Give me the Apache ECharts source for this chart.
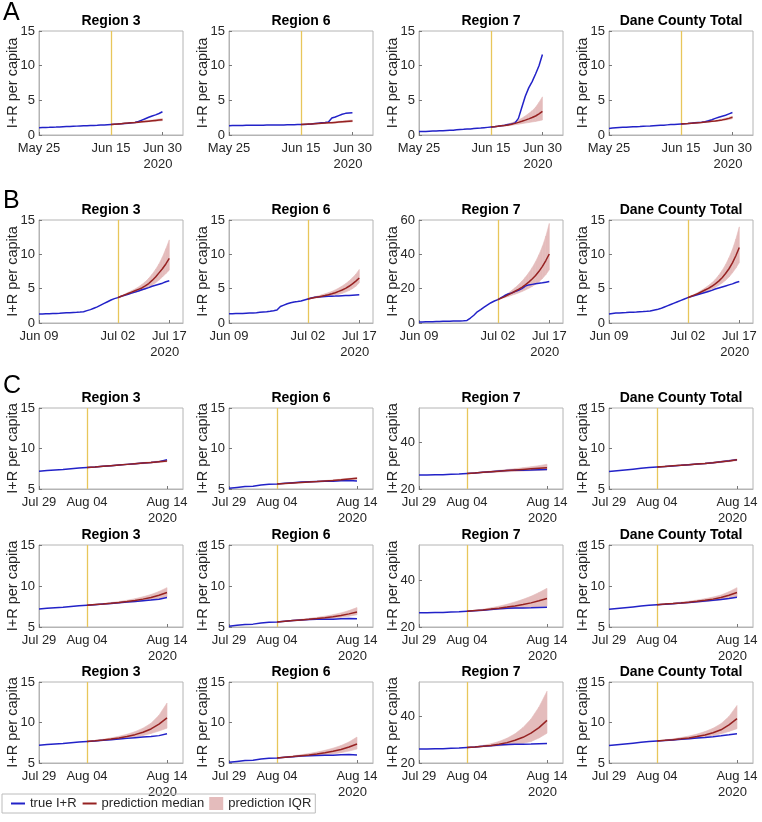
<!DOCTYPE html>
<html>
<head>
<meta charset="utf-8">
<script src="https://cdn.jsdelivr.net/npm/echarts@6/dist/echarts.min.js"></script>
<style>
html,body{margin:0;padding:0;background:#fff;}
#chart{width:762px;height:822px;}
</style>
</head>
<body>
<div id="chart"></div>
<script>
// ---------- categories / ticks ----------
const regionNames = ['Region 3', 'Region 6', 'Region 7', 'Dane County Total'];
const panelLetters = ['A', 'B', 'C'];
const yearLabel = '2020';
const yAxisLabel = 'I+R per capita';
const legendNames = ['true I+R', 'prediction median', 'prediction IQR'];

// x ticks (day offsets from series start) and their labels
const xTickDaysA = [0, 21, 36];
const xTickLabelsA = ['May 25', 'Jun 15', 'Jun 30'];
const xTickDaysB = [0, 23, 38];
const xTickLabelsB = ['Jun 09', 'Jul 02', 'Jul 17'];
const xTickDaysC = [0, 6, 16];
const xTickLabelsC = ['Jul 29', 'Aug 04', 'Aug 14'];
const predStartA = 21, predStartB = 23, predStartC = 6;
const xMaxA = 42, xMaxB = 42, xMaxC = 18;

// y ticks
const yTicks0to15 = [0, 5, 10, 15];
const yTicks0to60 = [0, 20, 40, 60];
const yTicks5to15 = [5, 10, 15];
const yTicks20to55 = [20, 40];

// ---------- Row A (May 25 .. Jun 30, prediction from Jun 15) ----------
const trueA_R3 = [1.05,1.07,1.09,1.1,1.12,1.14,1.17,1.2,1.22,1.24,1.26,1.28,1.3,1.32,1.34,1.36,1.38,1.4,1.43,1.46,1.49,1.52,1.55,1.58,1.62,1.66,1.7,1.75,1.8,1.95,2.15,2.35,2.55,2.75,2.9,3.1,3.35];
const medA_R3 = [1.52,1.56,1.6,1.64,1.68,1.72,1.76,1.8,1.85,1.9,1.95,2.0,2.05,2.1,2.15,2.2];
const loA_R3 = [1.52,1.55,1.58,1.61,1.64,1.67,1.7,1.74,1.78,1.82,1.86,1.9,1.94,1.98,2.02,2.06];
const hiA_R3 = [1.52,1.57,1.62,1.67,1.72,1.77,1.82,1.87,1.93,1.99,2.05,2.11,2.17,2.24,2.31,2.38];

const trueA_R6 = [1.35,1.36,1.37,1.38,1.38,1.39,1.4,1.4,1.41,1.42,1.42,1.43,1.44,1.44,1.45,1.46,1.46,1.47,1.48,1.49,1.5,1.51,1.53,1.56,1.6,1.65,1.7,1.75,1.8,1.88,2.45,2.6,2.8,3.0,3.12,3.18,3.2];
const medA_R6 = [1.51,1.54,1.57,1.6,1.63,1.66,1.69,1.72,1.75,1.78,1.82,1.86,1.9,1.94,1.98,2.02];
const loA_R6 = [1.51,1.53,1.55,1.57,1.6,1.62,1.64,1.67,1.69,1.72,1.74,1.77,1.8,1.83,1.86,1.89];
const hiA_R6 = [1.51,1.55,1.59,1.63,1.67,1.71,1.75,1.79,1.83,1.87,1.92,1.97,2.02,2.07,2.12,2.17];

const trueA_R7 = [0.5,0.5,0.52,0.54,0.56,0.58,0.6,0.62,0.65,0.68,0.7,0.75,0.8,0.82,0.85,0.88,0.92,0.96,1.0,1.05,1.1,1.15,1.2,1.25,1.32,1.4,1.5,1.6,1.75,2.4,4.0,5.6,6.8,7.7,8.8,10.0,11.6];
const medA_R7 = [1.15,1.2,1.26,1.32,1.38,1.45,1.55,1.68,1.82,1.98,2.15,2.33,2.52,2.74,3.05,3.4];
const loA_R7 = [1.15,1.18,1.22,1.26,1.3,1.34,1.4,1.48,1.56,1.64,1.72,1.8,1.88,1.96,2.06,2.16];
const hiA_R7 = [1.15,1.22,1.3,1.39,1.49,1.6,1.75,1.93,2.15,2.42,2.75,3.1,3.5,4.0,4.7,5.5];

const trueA_DC = [0.95,1.0,1.05,1.08,1.1,1.12,1.15,1.18,1.2,1.22,1.25,1.28,1.3,1.33,1.36,1.39,1.42,1.46,1.5,1.53,1.56,1.59,1.62,1.65,1.7,1.75,1.8,1.85,1.92,2.05,2.2,2.4,2.55,2.7,2.85,3.05,3.25];
const medA_DC = [1.59,1.62,1.65,1.69,1.73,1.77,1.81,1.86,1.91,1.97,2.03,2.1,2.18,2.28,2.4,2.55];
const loA_DC = [1.59,1.61,1.64,1.67,1.7,1.74,1.78,1.82,1.86,1.91,1.96,2.02,2.08,2.15,2.24,2.35];
const hiA_DC = [1.59,1.63,1.67,1.71,1.76,1.81,1.86,1.92,1.98,2.05,2.13,2.21,2.31,2.43,2.57,2.72];

// ---------- Row B (Jun 09 .. Jul 17, prediction from Jul 02) ----------
const trueB_R3 = [1.3,1.32,1.34,1.36,1.38,1.4,1.42,1.45,1.48,1.5,1.53,1.56,1.6,1.65,1.8,1.95,2.15,2.35,2.6,2.85,3.1,3.35,3.55,3.7,3.9,4.05,4.2,4.35,4.5,4.65,4.85,5.0,5.15,5.35,5.5,5.65,5.8,6.0,6.15];
const medB_R3 = [3.7,3.9,4.1,4.3,4.5,4.7,4.9,5.1,5.4,5.75,6.2,6.7,7.3,7.9,8.6,9.4];
const loB_R3 = [3.7,3.85,4.0,4.15,4.3,4.45,4.6,4.75,4.95,5.2,5.5,5.85,6.25,6.7,7.2,7.7];
const hiB_R3 = [3.7,3.95,4.2,4.45,4.7,4.95,5.25,5.6,6.0,6.5,7.1,7.8,8.6,9.6,10.8,12.1];

const trueB_R6 = [1.35,1.36,1.37,1.38,1.4,1.42,1.44,1.46,1.5,1.55,1.6,1.65,1.72,1.8,1.9,2.4,2.6,2.8,2.95,3.05,3.12,3.2,3.35,3.5,3.65,3.75,3.8,3.82,3.85,3.88,3.9,3.92,3.95,3.98,4.0,4.02,4.05,4.08,4.1];
const medB_R6 = [3.5,3.6,3.7,3.8,3.9,4.0,4.12,4.25,4.4,4.6,4.8,5.05,5.35,5.7,6.1,6.55];
const loB_R6 = [3.5,3.55,3.62,3.69,3.76,3.83,3.9,3.98,4.07,4.18,4.32,4.5,4.72,5.0,5.35,5.85];
const hiB_R6 = [3.5,3.65,3.8,3.95,4.1,4.25,4.42,4.6,4.82,5.08,5.38,5.72,6.12,6.58,7.1,7.8];

const trueB_R7 = [0.6,0.65,0.7,0.75,0.8,0.85,0.9,0.95,1.0,1.05,1.1,1.15,1.2,1.3,1.5,2.9,4.5,6.5,7.8,9.2,10.5,11.8,12.8,13.6,14.8,16.0,16.9,17.5,18.3,19.0,20.0,21.5,22.2,22.5,22.8,23.1,23.4,23.8,24.2];
const medB_R7 = [13.6,14.5,15.4,16.4,17.4,18.5,19.6,20.8,22.2,23.8,25.6,27.7,30.1,33.0,36.4,40.2];
const loB_R7 = [13.6,14.2,14.8,15.4,16.1,16.8,17.5,18.3,19.2,20.2,21.3,22.6,24.1,25.9,28.2,31.0];
const hiB_R7 = [13.6,14.8,16.0,17.4,18.9,20.5,22.3,24.3,26.6,29.2,32.2,35.7,39.8,44.6,50.6,58.0];

const trueB_DC = [1.3,1.38,1.45,1.47,1.5,1.52,1.55,1.58,1.6,1.63,1.66,1.7,1.75,1.85,1.95,2.1,2.3,2.5,2.7,2.9,3.1,3.3,3.5,3.7,3.85,4.0,4.15,4.3,4.45,4.6,4.75,4.95,5.1,5.25,5.4,5.55,5.7,5.9,6.05];
const medB_DC = [3.7,3.9,4.1,4.3,4.55,4.8,5.05,5.35,5.7,6.1,6.6,7.2,7.9,8.75,9.8,11.0];
const loB_DC = [3.7,3.85,4.0,4.15,4.32,4.5,4.7,4.92,5.18,5.48,5.82,6.22,6.7,7.3,8.0,8.8];
const hiB_DC = [3.7,3.95,4.2,4.47,4.78,5.1,5.45,5.85,6.35,6.95,7.65,8.5,9.5,10.7,12.2,14.0];

// ---------- Row C (Jul 29 .. Aug 14, prediction from Aug 04) ----------
const trueC_R3 = [7.2,7.28,7.36,7.42,7.5,7.58,7.65,7.72,7.8,7.88,7.96,8.04,8.12,8.2,8.28,8.38,8.6];
const trueC_R6 = [5.1,5.2,5.3,5.35,5.5,5.58,5.62,5.7,5.78,5.85,5.9,5.93,5.95,5.95,6.02,6.05,6.0];
const trueC_R7 = [26.1,26.1,26.15,26.2,26.35,26.5,26.7,26.9,27.2,27.5,27.8,28.0,28.1,28.15,28.2,28.3,28.4];
const trueC_DC = [7.15,7.25,7.35,7.45,7.55,7.65,7.72,7.78,7.85,7.92,8.0,8.08,8.16,8.25,8.35,8.48,8.62];

const medC1_R3 = [7.65,7.72,7.8,7.88,7.96,8.04,8.12,8.2,8.28,8.37,8.46];
const loC1_R3 = [7.65,7.71,7.78,7.85,7.92,7.99,8.06,8.13,8.2,8.28,8.36];
const hiC1_R3 = [7.65,7.73,7.82,7.91,8.0,8.09,8.18,8.27,8.36,8.46,8.56];
const medC1_R6 = [5.62,5.68,5.74,5.8,5.86,5.92,5.99,6.06,6.14,6.23,6.32];
const loC1_R6 = [5.62,5.67,5.72,5.77,5.82,5.87,5.93,5.99,6.06,6.13,6.21];
const hiC1_R6 = [5.62,5.69,5.76,5.83,5.9,5.97,6.05,6.13,6.22,6.32,6.43];
const medC1_R7 = [26.7,26.95,27.2,27.45,27.7,27.95,28.2,28.45,28.7,28.95,29.2];
const loC1_R7 = [26.7,26.85,27.0,27.15,27.3,27.45,27.6,27.75,27.9,28.05,28.2];
const hiC1_R7 = [26.7,27.05,27.4,27.75,28.1,28.45,28.8,29.2,29.6,30.1,30.7];
const medC1_DC = [7.72,7.79,7.86,7.93,8.0,8.08,8.16,8.25,8.35,8.47,8.6];
const loC1_DC = [7.72,7.78,7.84,7.9,7.96,8.03,8.1,8.18,8.27,8.38,8.5];
const hiC1_DC = [7.72,7.8,7.88,7.96,8.04,8.13,8.22,8.32,8.43,8.56,8.7];

const medC2_R3 = [7.65,7.73,7.81,7.9,8.0,8.11,8.24,8.4,8.6,8.88,9.2];
const loC2_R3 = [7.65,7.71,7.77,7.84,7.91,7.99,8.08,8.18,8.3,8.47,8.67];
const hiC2_R3 = [7.65,7.75,7.86,7.98,8.11,8.26,8.45,8.68,8.96,9.33,9.8];
const medC2_R6 = [5.62,5.7,5.78,5.86,5.94,6.03,6.13,6.25,6.4,6.6,6.84];
const loC2_R6 = [5.62,5.68,5.74,5.8,5.86,5.93,6.0,6.08,6.18,6.32,6.5];
const hiC2_R6 = [5.62,5.72,5.83,5.94,6.05,6.18,6.32,6.5,6.72,7.0,7.37];
const medC2_R7 = [26.7,27.0,27.3,27.65,28.05,28.5,29.0,29.6,30.3,31.2,32.2];
const loC2_R7 = [26.7,26.9,27.1,27.3,27.5,27.7,27.9,28.1,28.3,28.6,28.9];
const hiC2_R7 = [26.7,27.1,27.6,28.2,28.9,29.7,30.7,31.8,33.1,34.7,36.5];
const medC2_DC = [7.72,7.79,7.86,7.94,8.03,8.13,8.25,8.4,8.6,8.87,9.2];
const loC2_DC = [7.72,7.77,7.82,7.88,7.94,8.01,8.09,8.19,8.32,8.48,8.67];
const hiC2_DC = [7.72,7.82,7.92,8.03,8.15,8.29,8.45,8.65,8.9,9.3,9.8];

const medC3_R3 = [7.65,7.74,7.84,7.96,8.1,8.28,8.5,8.8,9.2,9.8,10.56];
const loC3_R3 = [7.65,7.71,7.77,7.85,7.94,8.05,8.2,8.4,8.65,8.95,9.3];
const hiC3_R3 = [7.65,7.78,7.93,8.1,8.3,8.55,8.87,9.3,9.9,10.9,12.4];
const medC3_R6 = [5.62,5.71,5.8,5.9,6.0,6.12,6.27,6.45,6.67,6.97,7.35];
const loC3_R6 = [5.62,5.68,5.74,5.8,5.86,5.93,6.01,6.12,6.27,6.47,6.73];
const hiC3_R6 = [5.62,5.75,5.88,6.02,6.17,6.35,6.57,6.83,7.15,7.6,8.2];
const medC3_R7 = [26.7,26.95,27.25,27.6,28.1,28.8,29.8,31.1,32.9,35.3,38.4];
const loC3_R7 = [26.7,26.85,27.0,27.2,27.4,27.7,28.0,28.5,29.3,30.8,32.9];
const hiC3_R7 = [26.7,27.1,27.6,28.3,29.3,30.7,32.6,35.3,39.0,44.2,51.0];
const medC3_DC = [7.72,7.8,7.88,7.98,8.1,8.26,8.46,8.73,9.1,9.7,10.47];
const loC3_DC = [7.72,7.77,7.82,7.88,7.96,8.06,8.2,8.38,8.6,8.9,9.24];
const hiC3_DC = [7.72,7.84,7.98,8.14,8.33,8.57,8.88,9.28,9.85,10.75,12.1];

// ---------- layout / style ----------
const FONT = '"Liberation Sans", Arial, Helvetica, sans-serif';
const BLUE = '#2222c8';
const RED = '#962222';
const BAND = '#e4bcbc';
const YEL = '#e8c65a';
const GRAY = '#b4b4b4';
const TXT = '#262626';
const colLeft = [39, 229, 419, 609];
const panelW = 144;

const rows = [
  { top: 31, h: 104, ticks: xTickDaysA, labels: xTickLabelsA, pred: predStartA, xMax: xMaxA,
    trues: [trueA_R3, trueA_R6, trueA_R7, trueA_DC], meds: [medA_R3, medA_R6, medA_R7, medA_DC],
    los: [loA_R3, loA_R6, loA_R7, loA_DC], his: [hiA_R3, hiA_R6, hiA_R7, hiA_DC],
    yr: [[0,15],[0,15],[0,15],[0,15]], yt: [yTicks0to15, yTicks0to15, yTicks0to15, yTicks0to15] },
  { top: 220, h: 103, ticks: xTickDaysB, labels: xTickLabelsB, pred: predStartB, xMax: xMaxB,
    trues: [trueB_R3, trueB_R6, trueB_R7, trueB_DC], meds: [medB_R3, medB_R6, medB_R7, medB_DC],
    los: [loB_R3, loB_R6, loB_R7, loB_DC], his: [hiB_R3, hiB_R6, hiB_R7, hiB_DC],
    yr: [[0,15],[0,15],[0,60],[0,15]], yt: [yTicks0to15, yTicks0to15, yTicks0to60, yTicks0to15] },
  { top: 408, h: 81, ticks: xTickDaysC, labels: xTickLabelsC, pred: predStartC, xMax: xMaxC,
    trues: [trueC_R3, trueC_R6, trueC_R7, trueC_DC], meds: [medC1_R3, medC1_R6, medC1_R7, medC1_DC],
    los: [loC1_R3, loC1_R6, loC1_R7, loC1_DC], his: [hiC1_R3, hiC1_R6, hiC1_R7, hiC1_DC],
    yr: [[5,15],[5,15],[20,55],[5,15]], yt: [yTicks5to15, yTicks5to15, yTicks20to55, yTicks5to15] },
  { top: 545, h: 82, ticks: xTickDaysC, labels: xTickLabelsC, pred: predStartC, xMax: xMaxC,
    trues: [trueC_R3, trueC_R6, trueC_R7, trueC_DC], meds: [medC2_R3, medC2_R6, medC2_R7, medC2_DC],
    los: [loC2_R3, loC2_R6, loC2_R7, loC2_DC], his: [hiC2_R3, hiC2_R6, hiC2_R7, hiC2_DC],
    yr: [[5,15],[5,15],[20,55],[5,15]], yt: [yTicks5to15, yTicks5to15, yTicks20to55, yTicks5to15] },
  { top: 682, h: 81, ticks: xTickDaysC, labels: xTickLabelsC, pred: predStartC, xMax: xMaxC,
    trues: [trueC_R3, trueC_R6, trueC_R7, trueC_DC], meds: [medC3_R3, medC3_R6, medC3_R7, medC3_DC],
    los: [loC3_R3, loC3_R6, loC3_R7, loC3_DC], his: [hiC3_R3, hiC3_R6, hiC3_R7, hiC3_DC],
    yr: [[5,15],[5,15],[20,55],[5,15]], yt: [yTicks5to15, yTicks5to15, yTicks20to55, yTicks5to15] }
];

// band between lower and upper quartile: one quad per day-to-day segment
function renderBand(params, api) {
  const x0 = api.value(0), l0 = api.value(1), h0 = api.value(2);
  const x1 = api.value(3), l1 = api.value(4), h1 = api.value(5);
  const pts = [api.coord([x0, l0]), api.coord([x1, l1]), api.coord([x1, h1]), api.coord([x0, h0])];
  return {
    type: 'polygon',
    shape: { points: pts },
    style: { fill: BAND, stroke: BAND, lineWidth: 0.6 }
  };
}

const grids = [], xAxes = [], yAxes = [], series = [], graphics = [];

rows.forEach((row, r) => {
  const tks = row.ticks, lbs = row.labels;
  for (let c = 0; c < 4; c++) {
    const i = r * 4 + c;
    grids.push({ left: colLeft[c], top: row.top, width: panelW, height: row.h,
      show: true, borderColor: GRAY, borderWidth: 1, backgroundColor: 'transparent', containLabel: false });
    xAxes.push({
      type: 'value', gridIndex: i, min: 0, max: row.xMax,
      splitLine: { show: false },
      axisLine: { show: true, lineStyle: { color: GRAY, width: 1 } },
      axisTick: { show: true, inside: true, length: 3, customValues: tks, lineStyle: { color: '#777' } },
      axisLabel: {
        customValues: tks, margin: 6, color: TXT, fontSize: 13, fontFamily: FONT, lineHeight: 15,
        formatter: function (v) {
          const k = tks.indexOf(v);
          if (k < 0) return '';
          if (k === tks.length - 1) return '{d|' + lbs[k] + '}\n{y|' + yearLabel + '}';
          return '{d|' + lbs[k] + '}';
        },
        rich: {
          d: { fontSize: 13, fontFamily: FONT, color: TXT, lineHeight: 15 },
          y: { fontSize: 13, fontFamily: FONT, color: TXT, lineHeight: 17, padding: [0, 9, 0, 0] }
        }
      }
    });
    yAxes.push({
      type: 'value', gridIndex: i, min: row.yr[c][0], max: row.yr[c][1],
      splitLine: { show: false },
      axisLine: { show: true, lineStyle: { color: GRAY, width: 1 } },
      axisTick: { show: true, inside: true, length: 3, customValues: row.yt[c], lineStyle: { color: '#777' } },
      axisLabel: { customValues: row.yt[c], margin: 4, color: TXT, fontSize: 13, fontFamily: FONT },
      name: yAxisLabel, nameLocation: 'middle', nameGap: 19, nameRotate: 90, nameMoveOverlap: false,
      nameTextStyle: { fontSize: 14.5, color: TXT, fontFamily: FONT }
    });

    const pred = row.pred;
    const lo = row.los[c], hi = row.his[c];
    const bandData = [];
    for (let k = 0; k < lo.length - 1; k++) {
      bandData.push([pred + k, lo[k], hi[k], pred + k + 1, lo[k + 1], hi[k + 1]]);
    }
    series.push({
      type: 'custom', name: 'prediction IQR', xAxisIndex: i, yAxisIndex: i,
      renderItem: renderBand, data: bandData, silent: true, clip: true,
      encode: { x: [0, 3], y: [1, 2, 4, 5] },
      itemStyle: { color: BAND }, color: BAND, z: 1
    });
    series.push({
      type: 'line', name: 'true I+R', xAxisIndex: i, yAxisIndex: i,
      data: row.trues[c].map((v, k) => [k, v]), symbol: 'none', color: BLUE,
      lineStyle: { color: BLUE, width: 1.5 }, z: 3,
      markLine: {
        silent: true, symbol: 'none', animation: false, label: { show: false }, z: 1,
        lineStyle: { color: YEL, width: 1.3, type: 'solid' },
        data: [{ xAxis: pred }]
      }
    });
    series.push({
      type: 'line', name: 'prediction median', xAxisIndex: i, yAxisIndex: i,
      data: row.meds[c].map((v, k) => [pred + k, v]), symbol: 'none', color: RED,
      lineStyle: { color: RED, width: 1.5 }, z: 4
    });

    graphics.push({
      type: 'text', x: colLeft[c] + panelW / 2, y: row.top - 10,
      style: { text: regionNames[c], font: 'bold 14px ' + FONT, fill: '#000',
        textAlign: 'center', textVerticalAlign: 'middle', align: 'center', verticalAlign: 'middle' }
    });
  }
});

const letterY = [13, 201, 386];
panelLetters.forEach((L, k) => {
  graphics.push({
    type: 'text', x: 3, y: letterY[k],
    style: { text: L, font: '25px ' + FONT, fill: '#000', textVerticalAlign: 'middle', verticalAlign: 'middle' }
  });
});

const option = {
  animation: false,
  textStyle: { fontFamily: FONT },
  grid: grids,
  xAxis: xAxes,
  yAxis: yAxes,
  series: series,
  graphic: graphics,
  legend: {
    left: 2, top: 794, orient: 'horizontal', selectedMode: false,
    data: [
      { name: legendNames[0], itemStyle: { opacity: 0 } },
      { name: legendNames[1], itemStyle: { opacity: 0 } },
      { name: legendNames[2], icon: 'rect', itemStyle: { color: BAND } }
    ],
    itemWidth: 14, itemHeight: 13, itemGap: 5,
    padding: [3, 4, 3, 8], borderColor: '#bcbcbc', borderWidth: 1,
    textStyle: { fontSize: 13, color: TXT, fontFamily: FONT }
  }
};

const chart = echarts.init(document.getElementById('chart'), null, { renderer: 'canvas' });
chart.setOption(option);
</script>
</body>
</html>
